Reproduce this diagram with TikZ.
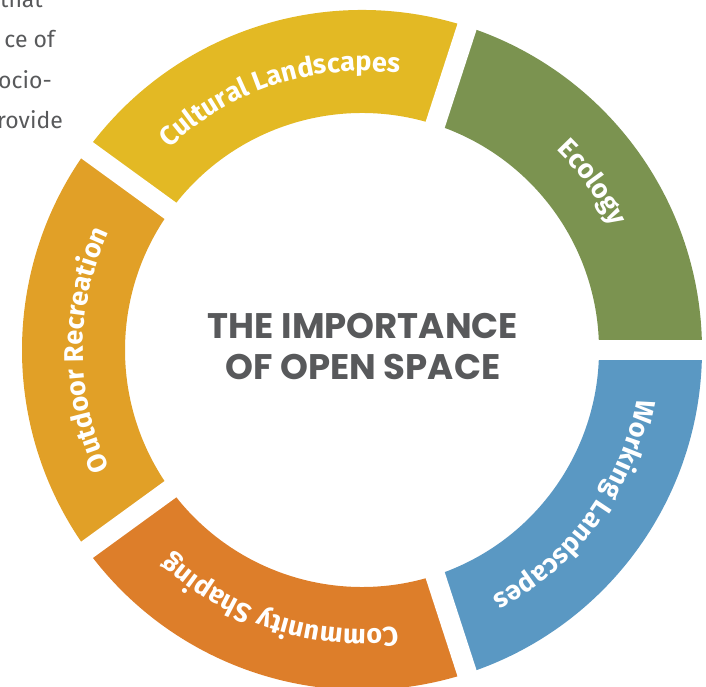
\documentclass[tikz,border=0pt]{standalone}
\usepackage{fontspec}
\setmainfont{Fira Sans}
\newfontfamily\titlefont{Poppins}
\usetikzlibrary{decorations.text}
\definecolor{cultc}{HTML}{E3B924}
\definecolor{ecoc}{HTML}{7B9350}
\definecolor{workc}{HTML}{5A98C3}
\definecolor{commc}{HTML}{DD7E2A}
\definecolor{outc}{HTML}{E1A027}
\definecolor{greytext}{HTML}{58595B}
\tikzset{
  seglabel/.style={decorate, decoration={text along path, text align=center, text color=white,
    text={|\bfseries\fontsize{27}{32}\selectfont|#1}}},
  bodytext/.style={anchor=base east, inner sep=0pt, text=greytext, font=\fontsize{23}{28}\selectfont},
  titletext/.style={anchor=base, inner sep=0pt, text=greytext, font=\titlefont\bfseries\fontsize{35.5}{40}\selectfont},
  gap/.style={white, line width=20pt}
}
\begin{document}
\begin{tikzpicture}[x=1pt,y=1pt]
\useasboundingbox (-362,-337) rectangle (344,350);
\clip (-362,-337) rectangle (344,350);
% ring segments
\fill[ecoc]  (0:340) arc[start angle=0,end angle=72,radius=340] -- (72:237) arc[start angle=72,end angle=0,radius=237] -- cycle;
\fill[cultc] (72:340) arc[start angle=72,end angle=144,radius=340] -- (144:237) arc[start angle=144,end angle=72,radius=237] -- cycle;
\fill[outc]  (144:340) arc[start angle=144,end angle=216,radius=340] -- (216:237) arc[start angle=216,end angle=144,radius=237] -- cycle;
\fill[commc] (216:340) arc[start angle=216,end angle=288,radius=340] -- (288:237) arc[start angle=288,end angle=216,radius=237] -- cycle;
\fill[workc] (288:340) arc[start angle=288,end angle=360,radius=340] -- (360:237) arc[start angle=360,end angle=288,radius=237] -- cycle;
% gaps
\foreach \a in {0,72,144,216,288} \draw[gap] (0,0) -- (\a:370);
% curved labels
\path[seglabel={Cultural Landscapes}] (142:279) arc[start angle=142,end angle=74,radius=279];
\path[seglabel={Ecology}] (70:279) arc[start angle=70,end angle=2,radius=279];
\path[seglabel={Working Landscapes}] (358:279) arc[start angle=358,end angle=290,radius=279];
\path[seglabel={Community Shaping}] (286:279) arc[start angle=286,end angle=218,radius=279];
\path[seglabel={Outdoor Recreation}] (214:279) arc[start angle=214,end angle=146,radius=279];
% title
\node[titletext] (title1) at (1,11) {THE IMPORTANCE};
\node[titletext] (title2) at (1,-30) {OF OPEN SPACE};
% clipped paragraph at top left
\node[bodytext] (p1) at (-319,342) {that};
\node[bodytext] (p2) at (-307,302) {ce of};
\node[bodytext] (p3) at (-310,261) {ocio-};
\node[bodytext] (p4) at (-299,221) {rovide};
\end{tikzpicture}
\end{document}
